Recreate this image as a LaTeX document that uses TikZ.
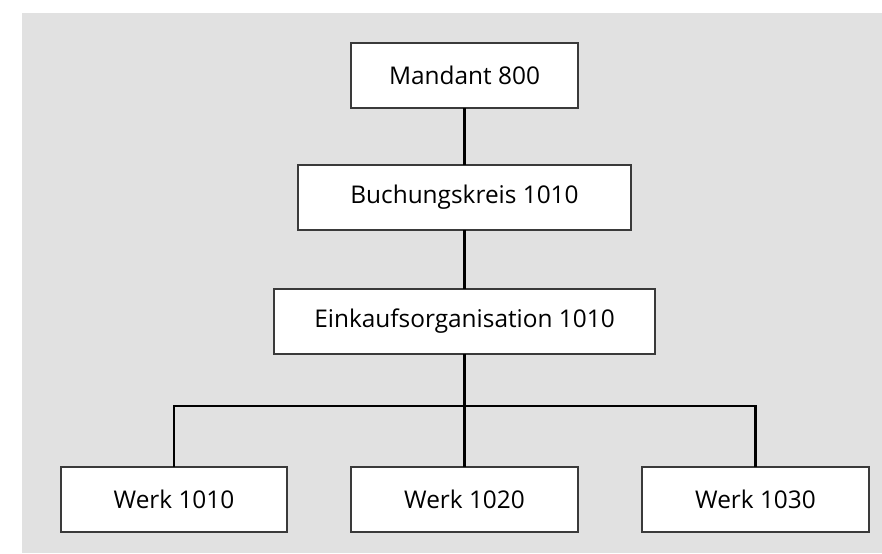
\documentclass[tikz,border=0pt]{standalone}
\usepackage{fontspec}
\setmainfont{Open Sans}
\usetikzlibrary{positioning}
\definecolor{bg}{HTML}{E1E1E1}
\definecolor{rim}{HTML}{3A3A3A}
\tikzset{bx/.append style={draw=rim,fill=white,line width=0.6pt,minimum height=32.5pt,inner sep=0pt,outer sep=0pt,font=\fontsize{12.2}{14}\selectfont}}
\tikzset{ln/.append style={line width=1.3pt,black}}
\begin{document}
\begin{tikzpicture}[x=0.5pt,y=-0.5pt]
                % background
                \useasboundingbox (0,0) rectangle (882,553);
                \fill[bg] (22,13) rectangle (882,553);
                \node[bx,minimum width=113.5pt] (m) at (464.5,75.5) {Mandant 800};
                \node[bx,minimum width=166.5pt] (bk) at (464.5,197.5) {Buchungskreis 1010};
                \node[bx,minimum width=190.5pt] (eo) at (464.5,321.5) {Einkaufsorganisation 1010};
                \node[bx,minimum width=113pt] (w1) at (174,499.5) {Werk 1010};
                \node[bx,minimum width=113.5pt] (w2) at (464.5,499.5) {Werk 1020};
                \node[bx,minimum width=113.5pt] (w3) at (755.5,499.5) {Werk 1030};
                \coordinate (bus) at (464.5,406);
                \draw[ln] (m) -- (bk);
                \draw[ln] (bk) -- (eo);
                \draw[ln] (eo) -- (bus);
                \draw[ln] (bus) -| (w1);
                \draw[ln] (bus) -- (w2);
                \draw[ln] (bus) -| (w3);
            \end{tikzpicture}
\end{document}
